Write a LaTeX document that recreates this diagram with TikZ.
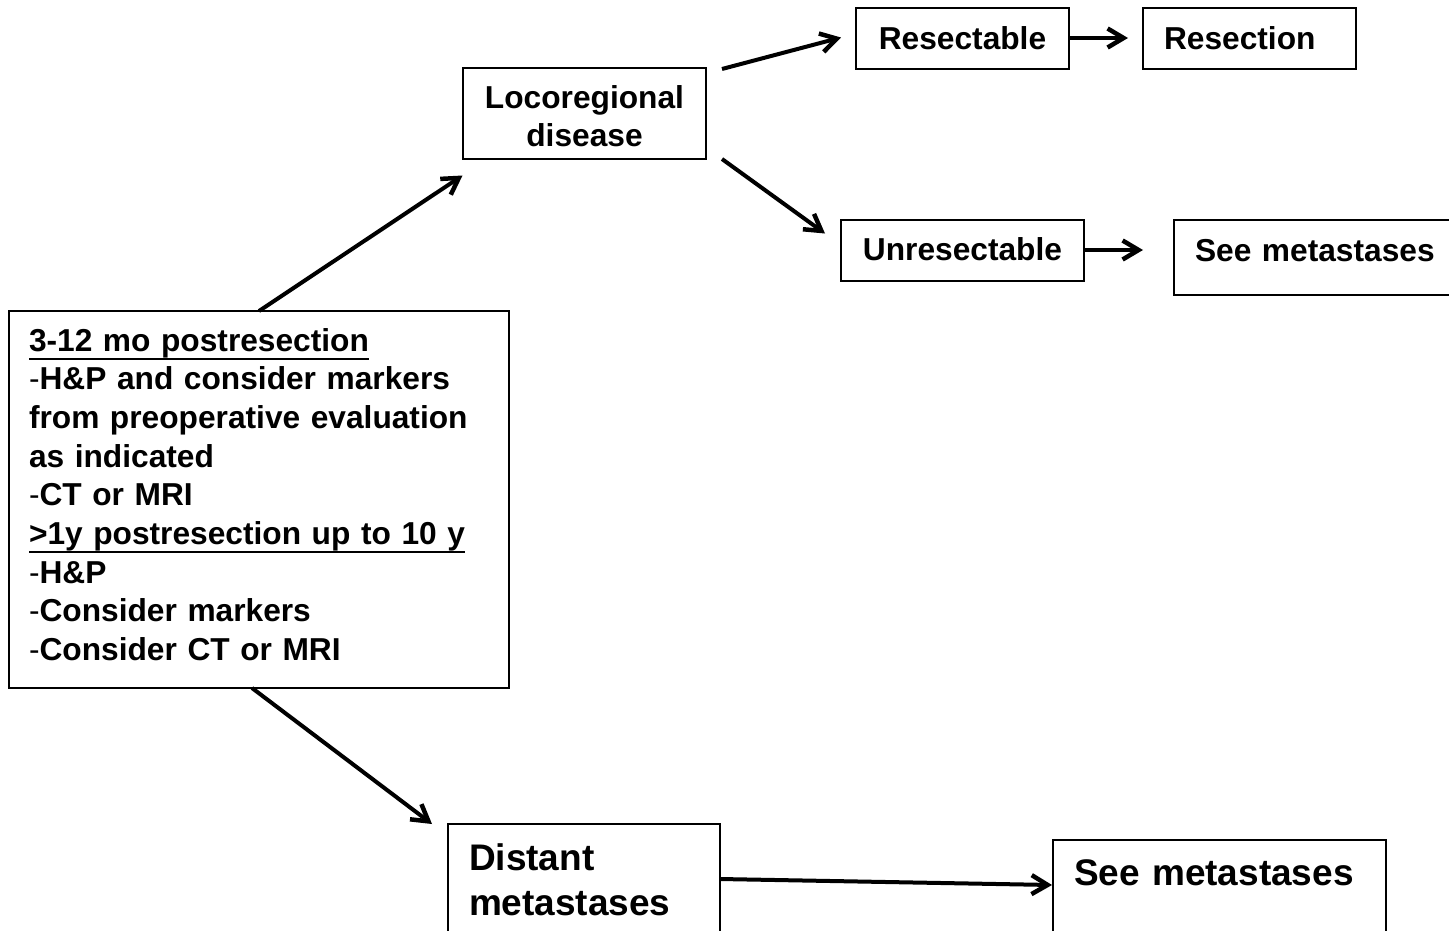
\documentclass[tikz,border=0pt]{standalone}
\usepackage{fontspec}
\setmainfont{Liberation Sans}
\usetikzlibrary{arrows.meta}
\newsavebox{\ulinebox}
% underlined heading: a 2pt rule set 6.5pt--8.5pt below the baseline
\newcommand{\headline}[1]{\mbox{\sbox{\ulinebox}{#1}\usebox{\ulinebox}\llap{\rule[-8.5pt]{\wd\ulinebox}{2pt}}}}
\newcommand{\itemdash}{\textmd{-}}

\tikzset{
  box/.style={draw, line width=2pt, rectangle, anchor=north west, outer sep=0pt,
    inner ysep=0pt, minimum width=0pt, minimum height=0pt,
    font=\fontsize{31.7}{38.7}\selectfont\bfseries},
  bigbox/.style={box, font=\fontsize{37}{45}\selectfont\bfseries},
  conn/.style={line width=4pt,
    -{Straight Barb[length=16pt,width=19pt,line width=4.5pt]}}
}

\begin{document}
\begin{tikzpicture}[x=1pt,y=-1pt]
  \useasboundingbox (0,0) rectangle (1449,930);
  \clip (0,0) rectangle (1449,930);

  % follow-up schedule
  \node[box, inner xsep=20pt, text width=460pt, align=left,
        text height=40pt, text depth=337pt] (main) at (9,311)
    {\headline{3-12 mo postresection}\\
     \itemdash H\&P and consider markers\\
     from preoperative evaluation\\
     as indicated\\
     \itemdash CT or MRI\\
     \headline{>1y postresection up to 10 y}\\
     \itemdash H\&P\\
     \itemdash Consider markers\\
     \itemdash Consider CT or MRI};

  % locoregional branch
  \node[box, inner xsep=0pt, text width=243pt, align=center,
        text height=40pt, text depth=51pt] (loco) at (463,68)
    {Locoregional\\disease};
  \node[box, inner xsep=0pt, text width=213pt, align=center,
        text height=41.5pt, text depth=19.5pt] (res) at (856,7.5) {Resectable};
  \node[box, inner xsep=21pt, text width=171pt, align=left,
        text height=41.5pt, text depth=19.5pt] (resn) at (1143,7.5) {Resection};
  \node[box, inner xsep=0pt, text width=243pt, align=center,
        text height=41pt, text depth=20pt] (unres) at (841,219.5) {Unresectable};
  \node[box, inner xsep=21pt, text width=258pt, align=left,
        text height=41.5pt, text depth=33.5pt] (seeA) at (1174,220) {See metastases};

  % distant branch
  \node[bigbox, inner xsep=21pt, text width=230pt, align=left,
        text height=46pt, text depth=150pt] (distant) at (448,824)
    {Distant\\metastases};
  \node[bigbox, inner xsep=21pt, text width=291pt, align=left,
        text height=45pt, text depth=150pt] (seeB) at (1053,840) {See metastases};

  % connectors
  \draw[conn] (main.north) -- ([shift={(-0.5,16.5)}]loco.south west);
  \draw[conn] ([xshift=-7pt]main.south) -- ([shift={(-16,0)}]distant.north west);
  \draw[conn] ([shift={(16,1)}]loco.north east) -- ([shift={(-15,30)}]res.north west);
  \draw[conn] ([shift={(16,0)}]loco.south east) -- ([shift={(-16,14)}]unres.north west);
  \draw[conn, shorten >=15pt] (res.east) -- (res.east -| resn.west);
  \draw[conn, shorten >=31pt] (unres.east) -- (unres.east -| seeA.west);
  \draw[conn] ([shift={(0,55)}]distant.north east) -- ([shift={(-1,45)}]seeB.north west);
\end{tikzpicture}
\end{document}
